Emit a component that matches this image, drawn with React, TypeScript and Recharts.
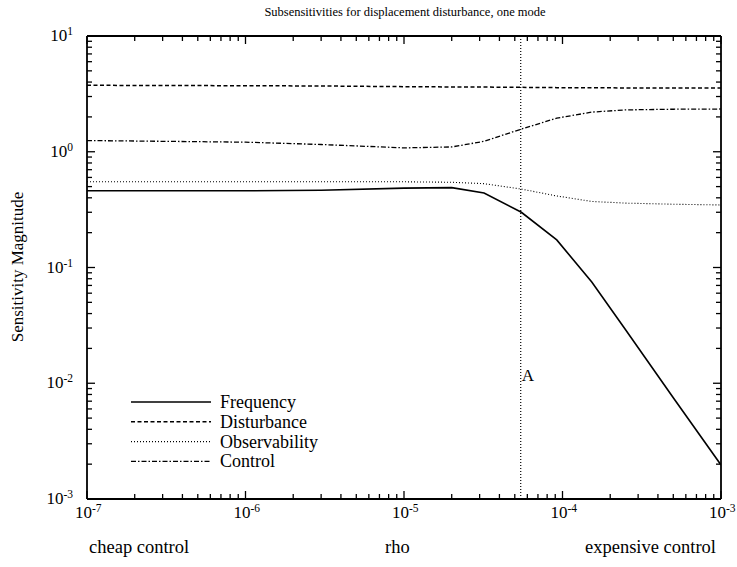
import React from 'react';
import { LineChart, Line, XAxis, YAxis, ReferenceLine, Legend } from 'recharts';

// rho values (x) and subsensitivity magnitudes
const rho = [1e-7, 1e-6, 3e-6, 1e-5, 2e-5, 3.2e-5, 5.5e-5, 9.2e-5, 1.53e-4, 2.5e-4, 5e-4, 1e-3];
const frequency = [0.46, 0.46, 0.465, 0.485, 0.49, 0.44, 0.30, 0.173, 0.075, 0.029, 0.0075, 0.00197];
const disturbance = [3.75, 3.72, 3.7, 3.65, 3.63, 3.62, 3.6, 3.58, 3.57, 3.56, 3.55, 3.55];
const observability = [0.55, 0.55, 0.55, 0.55, 0.545, 0.53, 0.476, 0.415, 0.372, 0.36, 0.352, 0.347];
const control = [1.25, 1.21, 1.155, 1.08, 1.1, 1.23, 1.57, 1.95, 2.2, 2.3, 2.33, 2.34];

const markerA = 5.45e-5;
const markerLabel = 'A';

const xMajor = [1e-7, 1e-6, 1e-5, 1e-4, 1e-3];
const xExponents = ['-7', '-6', '-5', '-4', '-3'];
const yMajor = [1e-3, 1e-2, 1e-1, 1, 10];
const yExponents = ['-3', '-2', '-1', '0', '1'];
const minorMultipliers = [2, 3, 4, 5, 6, 7, 8, 9];

const seriesNames = ['Frequency', 'Disturbance', 'Observability', 'Control'];
const title = 'Subsensitivities for displacement disturbance, one mode';
const yLabel = 'Sensitivity Magnitude';
const bottomLabels = ['cheap control', 'rho', 'expensive control'];

const withMinors = (majors: number[]) => {
  const out: number[] = [];
  majors.forEach((m, i) => {
    out.push(m);
    if (i < majors.length - 1) minorMultipliers.forEach((k) => out.push(m * k));
  });
  return out;
};
const xTicks = withMinors(xMajor);
const yTicks = withMinors(yMajor);

const data = rho.map((r, i) => ({
  rho: r,
  Frequency: frequency[i],
  Disturbance: disturbance[i],
  Observability: observability[i],
  Control: control[i],
}));

const FONT = '"Liberation Serif", "Times New Roman", serif';
const styles: Record<string, { dash?: string; width: number }> = {
  Frequency: { width: 1.6 },
  Disturbance: { dash: '4 2.5', width: 1.5 },
  Observability: { dash: '1 2', width: 1.1 },
  Control: { dash: '5 2 1.5 2', width: 1.3 },
};

const majorIndex = (v: number, majors: number[]) =>
  majors.findIndex((m) => Math.abs(Math.log10(m) - Math.log10(v)) < 1e-6);

const BottomTick = (props: any) => {
  const { x, y, payload } = props;
  const idx = majorIndex(payload.value, xMajor);
  const len = idx >= 0 ? 8 : 5;
  return (
    <g>
      <line x1={x} y1={y} x2={x} y2={y - len} stroke="#000" strokeWidth={1.3} />
      {idx >= 0 && (
        <text x={x - 12} y={y + 19} textAnchor="start" fontFamily={FONT} fontSize={17} fill="#000">
          10<tspan dy={-6} fontSize={11.5}>{xExponents[idx]}</tspan>
        </text>
      )}
    </g>
  );
};

const TopTick = (props: any) => {
  const { x, y, payload } = props;
  const idx = majorIndex(payload.value, xMajor);
  const len = idx >= 0 ? 8 : 5;
  return <line x1={x} y1={y} x2={x} y2={y + len} stroke="#000" strokeWidth={1.3} />;
};

const LeftTick = (props: any) => {
  const { x, y, payload } = props;
  const idx = majorIndex(payload.value, yMajor);
  const len = idx >= 0 ? 8 : 5;
  return (
    <g>
      <line x1={x} y1={y} x2={x + len} y2={y} stroke="#000" strokeWidth={1.3} />
      {idx >= 0 && (
        <text x={x - 14} y={y + 5} textAnchor="end" fontFamily={FONT} fontSize={17} fill="#000">
          10<tspan dy={-6} fontSize={11.5}>{yExponents[idx]}</tspan>
        </text>
      )}
    </g>
  );
};

const RightTick = (props: any) => {
  const { x, y, payload } = props;
  const idx = majorIndex(payload.value, yMajor);
  const len = idx >= 0 ? 8 : 5;
  return <line x1={x} y1={y} x2={x - len} y2={y} stroke="#000" strokeWidth={1.3} />;
};

const LegendContent = () => (
  <svg width={230} height={96} style={{ display: 'block', overflow: 'visible' }}>
    {seriesNames.map((n, i) => {
      const yy = 16 + i * 19.8;
      const s = styles[n];
      return (
        <g key={n}>
          <line x1={0} y1={yy} x2={80} y2={yy} stroke="#000" strokeWidth={s.width} strokeDasharray={s.dash} />
          <text x={89} y={yy + 6} fontFamily={FONT} fontSize={18} fill="#000">{n}</text>
        </g>
      );
    })}
  </svg>
);

const MarkerLabel = (props: any) => {
  const vb = props.viewBox || {};
  return (
    <text x={vb.x + 1} y={vb.y + vb.height * 0.745} fontFamily={FONT} fontSize={17} fill="#000">
      {markerLabel}
    </text>
  );
};

const axisLine = { stroke: '#000', strokeWidth: 1.8 };

const bottomStyle: React.CSSProperties = {
  position: 'absolute',
  top: 536,
  fontFamily: FONT,
  fontSize: 18.5,
  lineHeight: '22px',
  whiteSpace: 'nowrap',
};

export default function App() {
  return (
    <div style={{ position: 'absolute', left: 0, top: 0, width: 737, height: 567, background: '#fff' }}>
      <LineChart width={737} height={567} data={data} margin={{ top: 26, right: 6, bottom: 58, left: 0 }}>
        <XAxis
          xAxisId="bottom"
          dataKey="rho"
          type="number"
          scale="log"
          domain={[1e-7, 1e-3]}
          allowDataOverflow
          ticks={xTicks}
          interval={0}
          tick={<BottomTick />}
          tickLine={false}
          tickSize={0}
          tickMargin={0}
          axisLine={axisLine}
          height={10}
        />
        <XAxis
          xAxisId="top"
          orientation="top"
          dataKey="rho"
          type="number"
          scale="log"
          domain={[1e-7, 1e-3]}
          allowDataOverflow
          ticks={xTicks}
          interval={0}
          tick={<TopTick />}
          tickLine={false}
          tickSize={0}
          tickMargin={0}
          axisLine={axisLine}
          height={10}
        />
        <YAxis
          yAxisId="left"
          type="number"
          scale="log"
          domain={[1e-3, 10]}
          allowDataOverflow
          ticks={yTicks}
          interval={0}
          tick={<LeftTick />}
          tickLine={false}
          tickSize={0}
          tickMargin={0}
          axisLine={axisLine}
          width={87}
        />
        <YAxis
          yAxisId="right"
          orientation="right"
          type="number"
          scale="log"
          domain={[1e-3, 10]}
          allowDataOverflow
          ticks={yTicks}
          interval={0}
          tick={<RightTick />}
          tickLine={false}
          tickSize={0}
          tickMargin={0}
          axisLine={axisLine}
          width={10}
        />
        {seriesNames.map((n) => (
          <Line
            key={n}
            xAxisId="bottom"
            yAxisId="left"
            dataKey={n}
            type="linear"
            stroke="#000"
            strokeWidth={styles[n].width}
            strokeDasharray={styles[n].dash}
            dot={false}
            activeDot={false}
            isAnimationActive={false}
          />
        ))}
        <ReferenceLine
          xAxisId="bottom"
          yAxisId="left"
          x={markerA}
          stroke="#000"
          strokeWidth={1.2}
          strokeDasharray="1 2"
          label={<MarkerLabel />}
        />
        <Legend
          layout="vertical"
          align="center"
          verticalAlign="middle"
          content={<LegendContent />}
          wrapperStyle={{ position: 'absolute', left: 131, top: 386, width: 230, height: 96 }}
        />
      </LineChart>
      <div style={{ position: 'absolute', left: 0, width: 737, top: 4, textAlign: 'center', paddingLeft: 73, boxSizing: 'border-box', fontFamily: FONT, fontSize: 12.5, lineHeight: '16px' }}>
        {title}
      </div>
      <div style={{ position: 'absolute', left: 18, top: 267, width: 0, height: 0 }}>
        <div style={{ position: 'absolute', left: 0, top: 0, transform: 'translate(-50%, -50%) rotate(-90deg)', whiteSpace: 'nowrap', fontFamily: FONT, fontSize: 17, lineHeight: '20px' }}>
          {yLabel}
        </div>
      </div>
      <div style={{ ...bottomStyle, left: 89 }}>{bottomLabels[0]}</div>
      <div style={{ ...bottomStyle, left: 385 }}>{bottomLabels[1]}</div>
      <div style={{ ...bottomStyle, left: 585 }}>{bottomLabels[2]}</div>
    </div>
  );
}
